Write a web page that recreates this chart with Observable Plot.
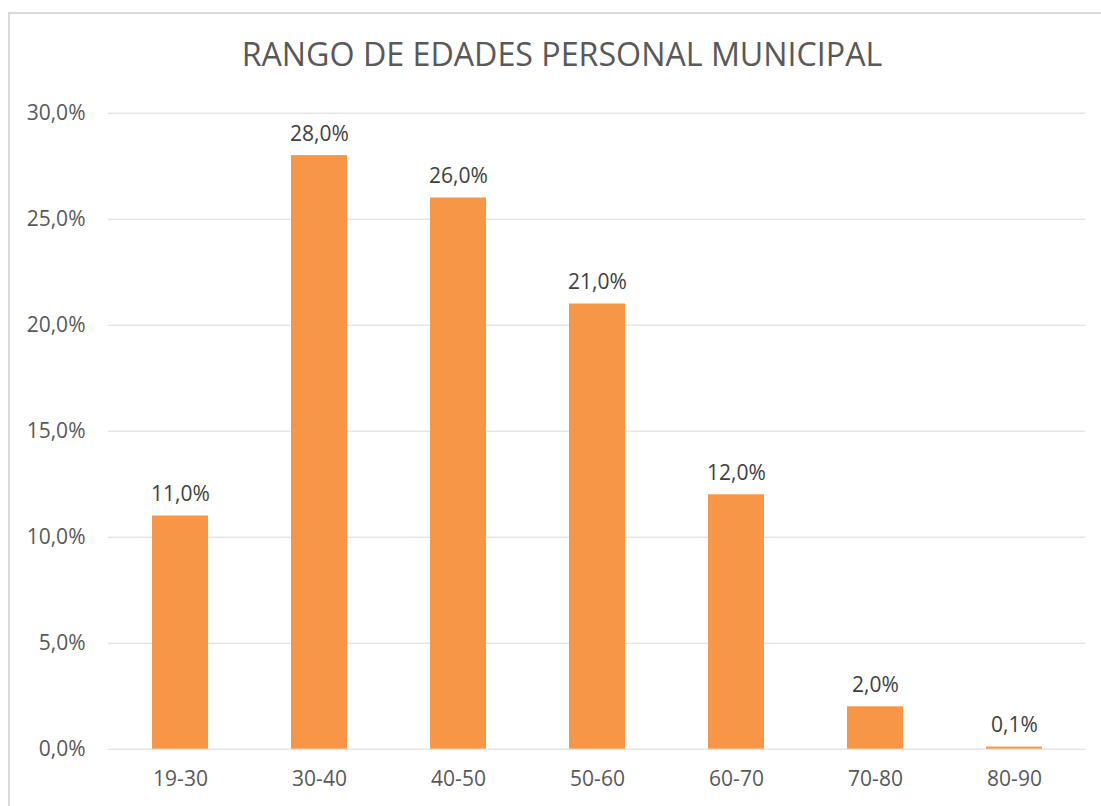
<!DOCTYPE html>
<html>
<head>
<meta charset="utf-8">
<script src="https://cdn.jsdelivr.net/npm/d3@7"></script>
<script src="https://cdn.jsdelivr.net/npm/@observablehq/plot@0.6"></script>
<style>
  html, body { margin: 0; padding: 0; background: #fff; overflow: hidden; width: 1101px; height: 806px; }
  #frame { position: absolute; left: 8px; top: 12px; width: 1106px; height: 820px; border: 2px solid #d9d9d9; box-sizing: border-box; }
  #title { position: absolute; left: 8px; width: 1108px; top: 38px; text-align: center; font-family: "Open Sans", sans-serif; font-size: 32.2px; line-height: 32px; color: #595959; white-space: nowrap; }
  #chart { position: absolute; left: 0; top: 90px; }
</style>
</head>
<body>
<div id="frame"></div>
<div id="title">RANGO DE EDADES PERSONAL MUNICIPAL</div>
<div id="chart"></div>
<script>
const categories = ["19-30", "30-40", "40-50", "50-60", "60-70", "70-80", "80-90"];
const values = [11.0, 28.0, 26.0, 21.0, 12.0, 2.0, 0.1];
const yTicks = [0, 5, 10, 15, 20, 25, 30];

const data = categories.map((c, i) => ({cat: c, val: values[i]}));
const fmt = d => d.toFixed(1).replace(".", ",") + "%";

const chart = Plot.plot({
  width: 1101,
  height: 716,
  marginTop: 22.7,
  marginBottom: 57.3,
  marginLeft: 108,
  marginRight: 16,
  style: {fontFamily: "Open Sans, sans-serif", fontSize: "21px", color: "#595959", background: "transparent", overflow: "visible"},
  x: {domain: categories, paddingInner: 0.6, paddingOuter: 0.3, label: null},
  y: {domain: [0, 30], label: null},
  marks: [
    Plot.gridY(yTicks, {stroke: "#d9d9d9", strokeOpacity: 1, strokeWidth: 1}),
    Plot.axisY(yTicks, {tickSize: 0, tickPadding: 23, tickFormat: fmt, fontSize: 21, fill: "#595959", label: null}),
    Plot.axisX({tickSize: 0, tickPadding: 22, fontSize: 21, fill: "#595959", label: null}),
    Plot.barY(data, {x: "cat", y: "val", fill: "#F79646"}),
    Plot.text(data, {x: "cat", y: "val", text: d => fmt(d.val), dy: -15, lineAnchor: "bottom", fill: "#404040", fontSize: 21})
  ]
});
document.getElementById("chart").appendChild(chart);
</script>
</body>
</html>
